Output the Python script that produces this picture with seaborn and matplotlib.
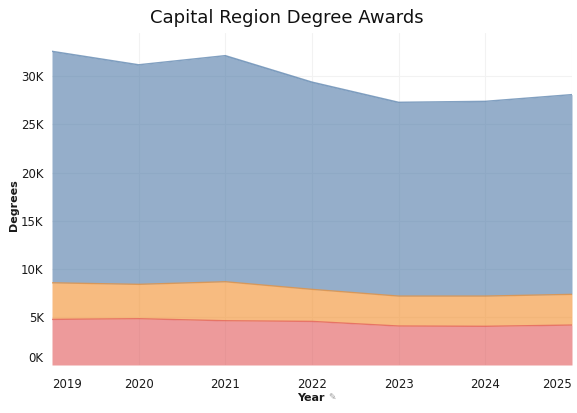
import numpy as np
import pandas as pd
import matplotlib
matplotlib.use("Agg")
import matplotlib.pyplot as plt
import seaborn as sns

years = [2019, 2020, 2021, 2022, 2023, 2024, 2025]
# stacked bottom -> top
series_names = ["Certificates", "Associate", "Bachelor & Above"]
certificates = [4740, 4810, 4600, 4530, 4050, 4020, 4150]
associate = [3800, 3570, 4050, 3330, 3110, 3140, 3190]
bachelor_plus = [24060, 22820, 23500, 21540, 20140, 20240, 20760]
colors = ["#e15759", "#f28e2b", "#4e79a7"]

y_ticks = [0, 5000, 10000, 15000, 20000, 25000, 30000]
y_tick_labels = ["0K", "5K", "10K", "15K", "20K", "25K", "30K"]

sns.set_theme(style="white")
plt.rcParams['font.family'] = ['DejaVu Sans']

df = pd.DataFrame({"Year": years,
                   series_names[0]: certificates,
                   series_names[1]: associate,
                   series_names[2]: bachelor_plus})

fig = plt.figure(figsize=(5.77, 4.13), dpi=100)
ax = fig.add_axes([52/577, 1-365/413, 520/577, 332/413])

# faint grid
for y in y_ticks[1:]:
    ax.axhline(y, color="#f2f2f2", lw=0.8, zorder=0)
for x in years[1:]:
    ax.axvline(x, color="#f2f2f2", lw=0.8, zorder=0)

ax.stackplot(df["Year"], df[series_names[0]], df[series_names[1]], df[series_names[2]],
             colors=colors, alpha=0.6, zorder=2, linewidth=0)

# thin edges on top of each band
cum = df[series_names].cumsum(axis=1)
for name, c in zip(series_names, colors):
    sns.lineplot(x=df["Year"], y=cum[name], color=c, alpha=0.7, lw=1.0, ax=ax, zorder=3)

ax.set_xlim(2019, 2025)
ax.set_ylim(0, 34500)
for s in ax.spines.values():
    s.set_visible(False)

ax.set_yticks(y_ticks)
ax.set_yticklabels(y_tick_labels)
ax.set_xticks(years)
ax.set_xticklabels([str(y) for y in years])
ax.tick_params(axis="both", length=0, labelsize=8.5, colors="#1a1a1a")
ax.tick_params(axis="y", pad=6)
ax.tick_params(axis="x", pad=9)
xl = ax.get_xticklabels()
xl[0].set_ha("left")
xl[-1].set_ha("right")
yl = ax.get_yticklabels()
yl[0].set_va("bottom")

ax.set_ylabel("")
ax.set_xlabel("")
fig.text(14/577, 1-205/413, "Degrees", ha="center", va="center", rotation=90,
         fontsize=8, fontweight="bold", color="#1a1a1a")
fig.text(311/577, 1-398/413, "Year", ha="center", va="center",
         fontsize=8, fontweight="bold", color="#1a1a1a")
fig.text(332/577, 1-397/413, "✎", ha="center", va="center",
         fontsize=6.5, color="#999999")

fig.text(0.497, 1-18/413, "Capital Region Degree Awards", ha="center", va="center",
         fontsize=13, color="#111111")

fig.savefig("out.png", dpi=100)
plt.close(fig)
